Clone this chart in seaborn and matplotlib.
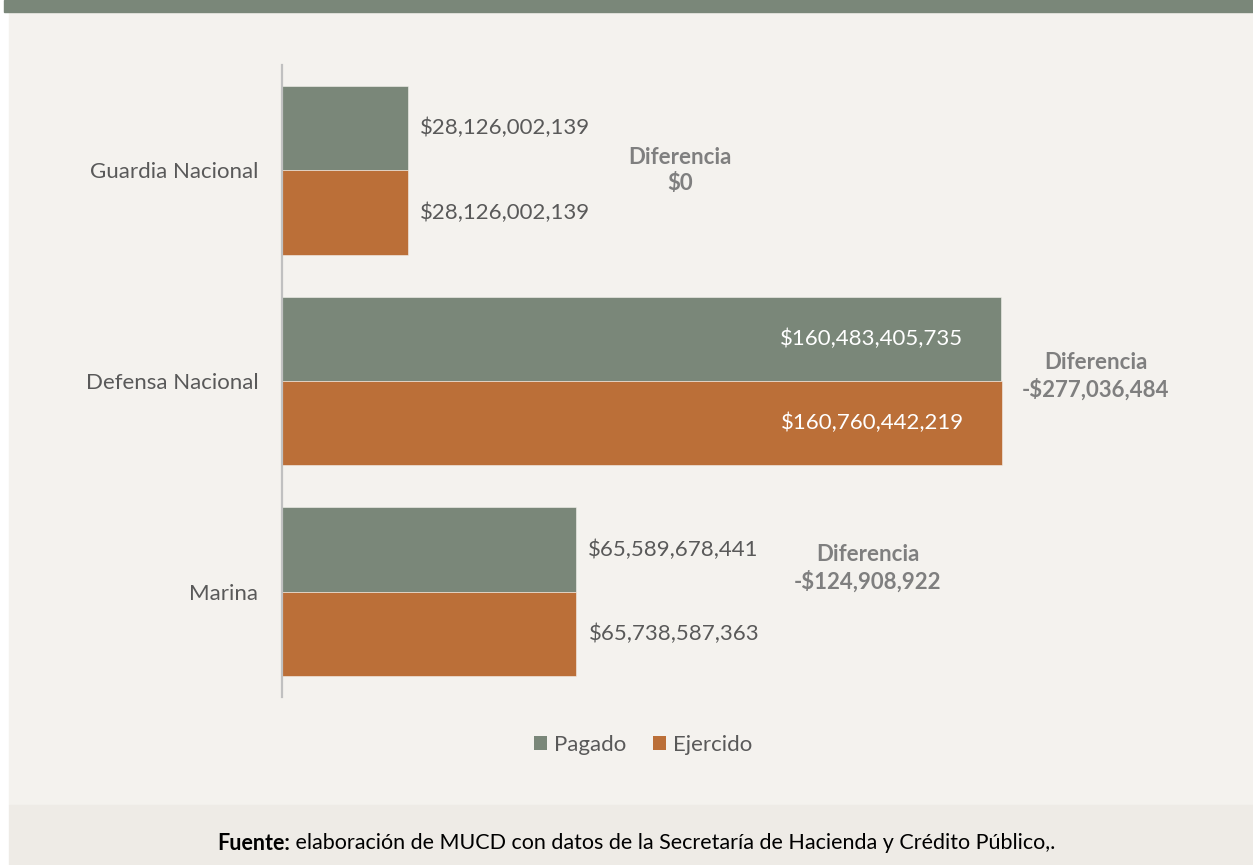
import matplotlib
matplotlib.use("Agg")
import matplotlib.pyplot as plt
import seaborn as sns
import pandas as pd
from matplotlib.patches import Rectangle, Patch

# ---- data ----
categories = ["Guardia Nacional", "Defensa Nacional", "Marina"]
series_names = ["Pagado", "Ejercido"]
pagado = [28126002139, 160483405735, 65589678441]
ejercido = [28126002139, 160760442219, 65738587363]
diferencias = ["$0", "-$277,036,484", "-$124,908,922"]

GREEN = "#7a8779"
ORANGE = "#bb6f38"
BG = "#f4f2ee"
FOOT = "#eeebe6"
TXT = "#595959"
DIFF = "#7f7f7f"

rows = []
for c, p, e in zip(categories, pagado, ejercido):
    rows.append({"cat": c, "serie": series_names[0], "valor": p})
    rows.append({"cat": c, "serie": series_names[1], "valor": e})
df = pd.DataFrame(rows)

sns.set_theme(style="white")
plt.rcParams["font.family"] = ["Lato", "DejaVu Sans"]

FS = 16

W, H = 1253, 865
fig = plt.figure(figsize=(W / 100, H / 100), dpi=100)
fig.patch.set_facecolor("white")

# background panels
fig.add_artist(Rectangle((9 / W, 1 - 805 / H), 1 - 9 / W, (805 - 12) / H,
                         transform=fig.transFigure, color=BG, zorder=-10))
fig.add_artist(Rectangle((4 / W, 1 - 12 / H), 1 - 4 / W, 12 / H,
                         transform=fig.transFigure, color=GREEN, zorder=-10))
fig.add_artist(Rectangle((9 / W, 0), 1 - 9 / W, (865 - 805) / H,
                         transform=fig.transFigure, color=FOOT, zorder=-10))

ax_l, ax_r, ax_t, ax_b = 282, 1200, 65, 697
ax = fig.add_axes([ax_l / W, 1 - ax_b / H, (ax_r - ax_l) / W, (ax_b - ax_t) / H])
ax.set_facecolor("none")

sns.barplot(data=df, y="cat", x="valor", hue="serie", orient="h",
            palette=[GREEN, ORANGE], width=0.8, gap=0, ax=ax,
            edgecolor=BG, linewidth=0.4, legend=False, saturation=1)

ax.set_xlim(0, (ax_r - ax_l) / 4.479 * 1e9)
ax.set_ylim(2.5, -0.5)
ax.set_xlabel("")
ax.set_ylabel("")
ax.set_xticks([])
for s in ["top", "right", "bottom"]:
    ax.spines[s].set_visible(False)
ax.spines["left"].set_color("#c0c0c0")
ax.spines["left"].set_linewidth(1.6)
ax.tick_params(axis="y", length=0, pad=17, labelsize=FS, labelcolor=TXT)

def fmt(v):
    return "${:,}".format(v)

# value labels
for ci, (p, e) in enumerate(zip(pagado, ejercido)):
    for si, v in enumerate([p, e]):
        y = ci + (-0.2 if si == 0 else 0.2)
        if ci == 1:
            ax.annotate(fmt(v), xy=(v, y), xytext=(-38, 0), textcoords="offset pixels",
                        ha="right", va="center", color="white", fontsize=FS)
        else:
            ax.annotate(fmt(v), xy=(v, y), xytext=(12, 0), textcoords="offset pixels",
                        ha="left", va="center", color=TXT, fontsize=FS)

# difference annotations
diff_pos = [(88.9e9, 0.0), (181.7e9, -0.02), (130.8e9, -0.11)]
for ci, ((x, dy), d) in enumerate(zip(diff_pos, diferencias)):
    ax.text(x, ci + dy, "Diferencia\n" + d, ha="center", va="center", color=DIFF,
            fontsize=FS, fontweight="bold", linespacing=1.3)

# legend
handles = [Patch(facecolor=GREEN, edgecolor="none"), Patch(facecolor=ORANGE, edgecolor="none")]
fig.legend(handles, series_names, loc="center", bbox_to_anchor=(643 / W, 1 - 745 / H),
           ncol=2, frameon=False, fontsize=FS, labelcolor=TXT,
           handlelength=0.6, handleheight=0.6, handletextpad=0.3, columnspacing=1.2)

# footer
fig.canvas.draw()
r = fig.canvas.get_renderer()
t1 = fig.text(0, 1 - 843 / H, "Fuente:", fontsize=15.5, fontweight="bold", color="black", va="center")
t2 = fig.text(0, 1 - 843 / H, " elaboración de MUCD con datos de la Secretaría de Hacienda y Crédito Público,.",
              fontsize=15.5, color="black", va="center")
w1 = t1.get_window_extent(r).width
w2 = t2.get_window_extent(r).width
x0 = 636 - (w1 + w2) / 2
t1.set_x(x0 / W)
t2.set_x((x0 + w1) / W)

fig.savefig("out.png", dpi=100, facecolor="white")
